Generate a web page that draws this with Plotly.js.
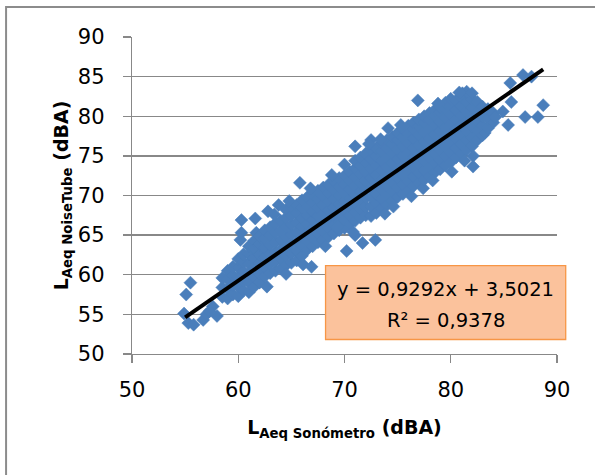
<!DOCTYPE html>
<html>
<head>
<meta charset="utf-8">
<script src="https://cdn.plot.ly/plotly-3.0.1.min.js"></script>
<style>
html,body{margin:0;padding:0;background:#fff;}
#chart{width:595px;height:475px;}
</style>
</head>
<body>
<div id="chart"></div>
<script>
// L_Aeq Sonómetro (x) and L_Aeq NoiseTube (y), dBA
const sonometro = [
54.9,55.3,55.8,55.1,55.5,56.7,57.0,58.0,57.6,57.3,
58.5,58.5,58.5,
59.0,59.0,59.0,59.0,
59.5,59.5,59.5,59.5,
60.0,60.0,60.0,60.0,60.0,
60.5,60.5,60.5,60.5,60.5,60.2,60.3,60.3,
61.0,61.0,61.0,61.0,61.0,61.0,
61.5,61.5,61.5,61.5,61.5,61.5,61.7,61.6,
62.0,62.0,62.0,62.0,62.0,62.0,
62.7,62.5,62.5,62.5,62.5,62.5,62.5,
63.0,63.0,63.0,63.0,63.0,63.0,62.8,
63.5,63.5,63.5,63.5,63.5,63.5,63.8,
64.0,64.0,64.0,64.0,64.0,64.0,
64.5,64.5,64.5,64.5,64.5,64.5,64.5,
65.0,65.0,65.0,65.0,65.0,65.0,65.0,
65.5,65.5,65.5,65.5,65.5,65.5,65.5,65.8,
66.1,66.0,66.0,66.0,66.0,66.0,66.0,66.0,
66.5,66.5,66.5,66.5,66.5,66.5,66.5,66.9,
67.0,67.0,67.0,67.0,67.0,67.0,67.0,
67.5,67.5,67.5,67.5,67.5,67.5,67.5,
68.0,68.0,68.0,68.0,68.0,68.0,68.0,
68.5,68.5,68.5,68.5,68.5,68.5,68.5,
69.0,69.0,69.0,69.0,69.0,69.0,69.0,
69.5,69.5,69.5,69.5,69.5,69.5,69.5,
70.0,70.0,70.0,70.0,70.0,70.0,70.0,70.0,70.2,
70.5,70.5,70.5,70.5,70.5,70.5,70.5,
71.0,71.0,71.0,71.0,71.0,71.0,71.0,71.0,71.0,71.0,
71.5,71.5,71.5,71.5,71.5,71.5,71.5,71.5,71.7,
72.0,72.0,72.0,72.0,72.0,72.0,72.0,72.0,
72.5,72.5,72.5,72.5,72.5,72.5,72.5,72.5,72.5,72.9,
73.0,73.0,73.0,73.0,73.0,73.0,73.0,73.0,
73.5,73.5,73.5,73.5,73.5,73.5,73.5,73.5,
74.0,74.0,74.0,74.0,74.0,74.0,74.0,74.0,74.1,
74.5,74.5,74.5,74.5,74.5,74.5,74.5,74.5,
75.0,75.0,75.0,75.0,75.0,75.0,75.0,75.0,
75.5,75.5,75.5,75.5,75.5,75.5,75.5,75.5,
76.0,76.0,76.0,76.0,76.0,76.0,76.0,76.0,
76.5,76.5,76.5,76.5,76.5,76.5,76.5,76.5,76.9,
77.0,77.0,77.0,77.0,77.0,77.0,77.0,77.0,77.4,
77.5,77.5,77.5,77.5,77.5,77.5,77.5,77.5,
78.0,78.0,78.0,78.0,78.0,78.0,78.0,78.0,
78.5,78.5,78.5,78.5,78.5,78.5,78.5,78.5,
79.0,79.0,79.0,79.0,79.0,79.0,79.0,79.0,
79.5,79.5,79.5,79.5,79.5,79.5,79.5,79.5,
80.0,80.0,80.0,80.0,80.0,80.0,80.0,80.0,80.1,
80.5,80.5,80.5,80.5,80.5,80.5,80.5,
81.0,81.0,81.0,81.0,81.0,81.0,81.0,81.1,
81.5,81.5,81.5,81.5,81.5,81.5,81.5,
82.0,82.0,82.0,82.0,82.0,82.0,82.0,82.1,82.1,
82.5,82.5,82.5,82.5,82.5,
83.0,83.0,83.0,83.0,83.2,
83.5,83.5,83.5,
84.0,84.0,84.2,84.9,85.4,85.6,85.7,86.8,87.0,87.6,88.2,88.7,
63.4,64.8,66.8,68.8,72.3,73.4,75.3,78.8,80.8,
64.5,68.2,70.8,73.8,76.3,78.3,81.3,74.6,69.3
];
const noisetube = [
55.1,53.9,53.7,57.5,59.0,54.3,55.0,54.8,56.0,55.4,
57.2,58.4,59.6,
57.0,58.2,59.4,60.5,
57.5,58.7,59.9,61.0,
57.3,58.5,59.7,60.9,62.0,
58.0,59.2,60.4,61.6,62.6,64.4,65.3,66.9,
57.8,59.0,60.2,61.4,62.6,63.6,
58.5,59.7,60.9,62.1,63.3,64.3,65.3,67.1,
59.0,60.2,61.4,62.6,63.8,64.8,
58.5,59.8,61.0,62.2,63.4,64.6,65.6,
60.2,61.4,62.6,63.8,65.0,66.0,68.0,
60.5,61.7,62.9,64.1,65.3,66.5,68.8,
60.8,62.0,63.2,64.4,65.6,66.8,
61.2,62.4,63.6,64.8,66.0,67.2,68.2,
61.5,62.7,63.9,65.1,66.3,67.5,68.6,
61.8,63.0,64.2,65.4,66.6,67.8,68.8,71.6,
61.3,62.4,63.6,64.8,66.0,67.2,68.4,69.4,
63.2,64.2,65.3,66.4,67.5,68.6,69.8,61.0,
63.6,64.7,65.8,66.9,68.0,69.1,70.1,
64.1,65.2,66.3,67.4,68.5,69.6,70.6,
64.4,65.5,66.6,67.7,68.8,69.9,71.0,
64.8,65.9,67.0,68.1,69.2,70.3,71.4,
65.2,66.3,67.4,68.5,69.6,70.7,71.8,
65.6,66.7,67.8,68.9,70.0,71.1,72.2,
65.9,67.0,68.1,69.2,70.3,71.4,72.5,73.9,63.0,
66.4,67.5,68.6,69.7,70.8,71.9,73.0,
66.8,67.9,69.0,70.1,71.2,72.3,73.4,74.4,76.2,65.0,
67.2,68.3,69.4,70.5,71.6,72.7,73.8,74.8,64.0,
67.5,68.6,69.7,70.8,71.9,73.0,74.1,75.3,
67.4,68.6,69.8,71.0,72.2,73.4,74.6,75.7,77.0,64.4,
67.8,69.0,70.2,71.4,72.6,73.8,75.0,76.0,
68.4,69.6,70.8,72.0,73.2,74.4,75.6,76.6,
68.8,70.0,71.2,72.4,73.6,74.8,76.0,77.0,78.5,
69.3,70.5,71.7,72.9,74.1,75.3,76.5,77.4,
69.8,71.0,72.2,73.4,74.6,75.8,77.0,77.9,
70.2,71.4,72.6,73.8,75.0,76.2,77.4,78.4,
70.6,71.8,73.0,74.2,75.4,76.6,77.8,78.8,
71.2,72.4,73.6,74.8,76.0,77.2,78.4,79.2,82.0,
71.6,72.8,74.0,75.2,76.4,77.6,78.8,79.6,70.9,
72.0,73.2,74.4,75.6,76.8,78.0,79.2,80.0,
72.4,73.6,74.8,76.0,77.2,78.4,79.6,80.4,
72.9,74.1,75.3,76.5,77.7,78.9,80.1,80.8,
73.3,74.5,75.7,76.9,78.1,79.3,80.5,81.2,
73.8,75.0,76.2,77.4,78.6,79.8,81.0,81.7,
74.2,75.4,76.6,77.8,79.0,80.2,81.4,82.2,73.0,
74.8,76.0,77.2,78.4,79.6,80.8,82.0,
75.3,76.5,77.7,78.9,80.1,81.3,82.4,82.9,
75.8,77.0,78.2,79.4,80.6,81.8,83.1,
76.2,77.4,78.6,79.8,81.0,82.2,82.9,75.0,73.65,
77.0,78.2,79.4,80.6,81.8,
77.6,78.8,80.0,81.2,77.9,
78.5,79.7,80.9,
79.2,80.4,79.9,80.6,78.9,84.2,81.8,85.2,79.9,85.0,79.9,81.4,
67.6,69.3,70.9,72.6,76.5,77.1,78.9,81.6,83.0,
60.1,63.6,65.4,67.7,69.9,71.9,74.4,68.6,66.0
];
// Linear trend line shown in the chart
const slope = 0.9292;
const intercept = 3.5021;
const trendX = [55.0, 88.7];
const trendY = trendX.map(v => slope * v + intercept);
const eqText = "y = 0,9292x + 3,5021";
const r2Text = "R² = 0,9378";
const xTicks = [50, 60, 70, 80, 90];
const yTicks = [50, 55, 60, 65, 70, 75, 80, 85, 90];

const FONT = "DejaVu Sans";
const GRID = "#888888";

const traces = [
  {
    x: sonometro, y: noisetube, type: "scatter", mode: "markers",
    marker: {symbol: "diamond", size: 10, color: "#4A7EBB", line: {color: "#4A7EBB", width: 0.5}},
    hoverinfo: "skip"
  },
  {
    x: trendX, y: trendY, type: "scatter", mode: "lines",
    line: {color: "#000000", width: 4},
    hoverinfo: "skip"
  }
];

const layout = {
  width: 595, height: 475,
  margin: {l: 132, r: 38, t: 37, b: 121},
  paper_bgcolor: "#ffffff", plot_bgcolor: "#ffffff",
  showlegend: false,
  font: {family: FONT, color: "#000000", size: 21},
  xaxis: {
    range: [50, 90], tickvals: xTicks, ticktext: xTicks.map(String),
    showgrid: false, zeroline: false,
    showline: true, linecolor: GRID, linewidth: 1.3,
    ticks: "outside", ticklen: 8, tickcolor: GRID, tickwidth: 1.3,
    ticklabelstandoff: 8,
    tickfont: {family: FONT, size: 21, color: "#000"},
    title: {text: "<b>L<sub>Aeq Sonómetro</sub> (dBA)</b>", font: {family: FONT, size: 19, color: "#000"}, standoff: 20}
  },
  yaxis: {
    range: [50, 90], tickvals: yTicks, ticktext: yTicks.map(String),
    showgrid: true, gridcolor: GRID, gridwidth: 1.3, zeroline: false,
    showline: true, linecolor: GRID, linewidth: 1.3,
    ticks: "outside", ticklen: 8, tickcolor: GRID, tickwidth: 1.3,
    ticklabelstandoff: 14,
    tickfont: {family: FONT, size: 21, color: "#000"},
    title: {text: "<b>L<sub>Aeq NoiseTube</sub> (dBA)</b>", font: {family: FONT, size: 19, color: "#000"}, standoff: 4}
  },
  shapes: [
    {type: "rect", xref: "paper", yref: "paper", x0: -0.2963, x1: 1.3, y0: -0.6, y1: 1.0945,
     line: {color: "#8C8C8C", width: 2}, fillcolor: "rgba(0,0,0,0)", layer: "below"},
    {type: "rect", xref: "paper", yref: "paper", x0: 0.4554, x1: 1.0205, y0: 0.0457, y1: 0.2787,
     line: {color: "#F79646", width: 1.3}, fillcolor: "#FBC29C", layer: "above"}
  ],
  annotations: [
    {xref: "paper", yref: "paper", x: 0.738, y: 0.2031, text: eqText, showarrow: false,
     xanchor: "center", yanchor: "middle", font: {family: FONT, size: 19.5, color: "#000"}},
    {xref: "paper", yref: "paper", x: 0.738, y: 0.1065, text: r2Text, showarrow: false,
     xanchor: "center", yanchor: "middle", font: {family: FONT, size: 19.5, color: "#000"}}
  ]
};

Plotly.newPlot("chart", traces, layout, {staticPlot: true, displayModeBar: false});
</script>
</body>
</html>
